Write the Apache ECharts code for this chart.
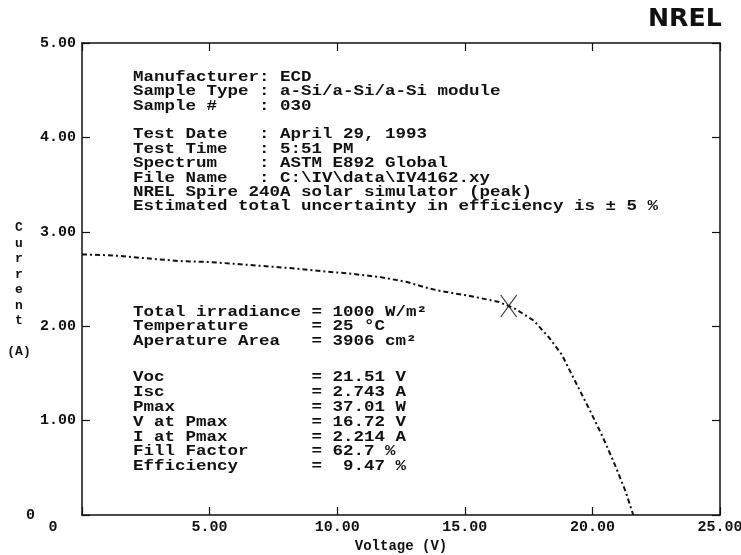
<!DOCTYPE html>
<html>
<head>
<meta charset="utf-8">
<script src="https://cdn.jsdelivr.net/npm/echarts@6/dist/echarts.min.js"></script>
<style>html,body{margin:0;padding:0;background:#fff;}#c{width:741px;height:555px;}</style>
</head>
<body>
<div id="c"></div>
<script>
// ---- data ----
var voltage = [0.0, 1.2, 2.5, 3.8, 5.0, 6.0, 7.0, 8.4, 9.5, 10.4, 11.7, 12.7, 13.6, 14.1, 15.2, 16.3, 16.72, 17.0, 17.7, 18.3, 18.8, 19.3, 19.9, 20.4, 20.9, 21.3, 21.6];
var current = [2.76, 2.75, 2.72, 2.69, 2.68, 2.66, 2.64, 2.61, 2.58, 2.56, 2.52, 2.47, 2.40, 2.37, 2.32, 2.26, 2.214, 2.18, 2.06, 1.88, 1.70, 1.43, 1.11, 0.83, 0.52, 0.25, 0.0];
var pmaxPoint = [16.72, 2.214];
var xTicks = [0, 5, 10, 15, 20, 25];
var yTicks = [0, 1, 2, 3, 4, 5];
var xTitle = 'Voltage (V)';
var yTitleLines = ['C', 'u', 'r', 'r', 'e', 'n', 't', '', '(A)'];
var headerLines = [
  'Manufacturer: ECD',
  'Sample Type : a-Si/a-Si/a-Si module',
  'Sample #    : 030',
  '',
  'Test Date   : April 29, 1993',
  'Test Time   : 5:51 PM',
  'Spectrum    : ASTM E892 Global',
  'File Name   : C:\\IV\\data\\IV4162.xy',
  'NREL Spire 240A solar simulator (peak)',
  'Estimated total uncertainty in efficiency is \u00b1 5 %'
];
var conditionLines = [
  'Total irradiance = 1000 W/m\u00b2',
  'Temperature      = 25 \u00b0C',
  'Aperature Area   = 3906 cm\u00b2'
];
var resultLines = [
  'Voc              = 21.51 V',
  'Isc              = 2.743 A',
  'Pmax             = 37.01 W',
  'V at Pmax        = 16.72 V',
  'I at Pmax        = 2.214 A',
  'Fill Factor      = 62.7 %',
  'Efficiency       =  9.47 %'
];

var MONO = '"Liberation Mono","Courier New","DejaVu Sans Mono",monospace';
var chart = echarts.init(document.getElementById('c'), null, {renderer: 'canvas'});

var ivData = voltage.map(function (v, i) { return [v, current[i]]; });

function textBlock(lines, x, y, lh) {
  return {
    type: 'text', x: x, y: y, scaleX: 1.25, scaleY: 1, z: 10,
    style: {
      text: lines.join('\n'), x: 0, y: 0,
      font: 'bold 14px ' + MONO, fill: '#111',
      lineHeight: lh, verticalAlign: 'top', align: 'left'
    }
  };
}

var tickStyle = {show: true, inside: true, length: 8, lineStyle: {color: '#111', width: 1.2}};
var lineStyleAxis = {show: true, onZero: false, lineStyle: {color: '#111', width: 1.5}};

var option = {
  backgroundColor: '#fff',
  animation: false,
  grid: {left: 82, top: 43, right: 21, bottom: 40, containLabel: false, outerBoundsMode: 'none'},
  xAxis: [{
    type: 'value', min: xTicks[0], max: xTicks[xTicks.length - 1], interval: 5,
    name: xTitle, nameLocation: 'middle', nameGap: 22,
    nameTextStyle: {fontFamily: MONO, fontWeight: 'bold', fontSize: 14, color: '#111'},
    axisLine: lineStyleAxis, axisTick: tickStyle, splitLine: {show: false},
    axisLabel: {
      margin: 5, fontFamily: MONO, fontWeight: 'bold', fontSize: 15, color: '#111',
      showMinLabel: true, showMaxLabel: true,
      formatter: function (v) { return v === 0 ? '{z|0}' : v.toFixed(2); },
      rich: {z: {fontFamily: MONO, fontWeight: 'bold', fontSize: 15, color: '#111', padding: [0, 58, 0, 0]}}
    }
  }, {
    type: 'value', position: 'top', min: xTicks[0], max: xTicks[xTicks.length - 1], interval: 5,
    axisLine: lineStyleAxis, axisTick: tickStyle,
    axisLabel: {show: false}, splitLine: {show: false}
  }],
  yAxis: [{
    type: 'value', min: yTicks[0], max: yTicks[yTicks.length - 1], interval: 1,
    axisLine: lineStyleAxis, axisTick: tickStyle, splitLine: {show: false},
    axisLabel: {
      margin: 6, fontFamily: MONO, fontWeight: 'bold', fontSize: 15, color: '#111',
      formatter: function (v) { return v === 0 ? '{z|0}' : v.toFixed(2); },
      rich: {z: {fontFamily: MONO, fontWeight: 'bold', fontSize: 15, color: '#111', padding: [0, 41, 0, 0]}}
    }
  }, {
    type: 'value', position: 'right', min: yTicks[0], max: yTicks[yTicks.length - 1], interval: 1,
    axisLine: lineStyleAxis, axisTick: tickStyle,
    axisLabel: {show: false}, splitLine: {show: false}
  }],
  series: [{
    type: 'line', data: ivData, showSymbol: false, smooth: false,
    lineStyle: {color: '#111', width: 2, type: [5, 3, 2, 3]}, z: 3
  }, {
    type: 'scatter', data: [pmaxPoint],
    symbol: 'path://M0,0L16,22M16,0L0,22', symbolSize: [16, 22],
    itemStyle: {color: 'rgba(0,0,0,0)', borderColor: '#111', borderWidth: 1.2}, z: 4
  }],
  graphic: [
    {
      type: 'text', x: 19, y: 220, z: 10,
      style: {text: yTitleLines.join('\n'), x: 0, y: 0, font: 'bold 13px ' + MONO, fill: '#111',
        lineHeight: 15.5, align: 'center', verticalAlign: 'top'}
    },
    textBlock(headerLines, 133, 70, 14.4),
    textBlock(conditionLines, 133, 305, 14.5),
    textBlock(resultLines, 133, 370, 14.9),
    {
      type: 'text', x: 648, y: 8, scaleX: 1.05, z: 10,
      style: {text: 'NREL', x: 0, y: 0, font: '900 24px "DejaVu Sans",sans-serif', fill: '#111', verticalAlign: 'top'}
    }
  ]
};
chart.setOption(option);
</script>
</body>
</html>
